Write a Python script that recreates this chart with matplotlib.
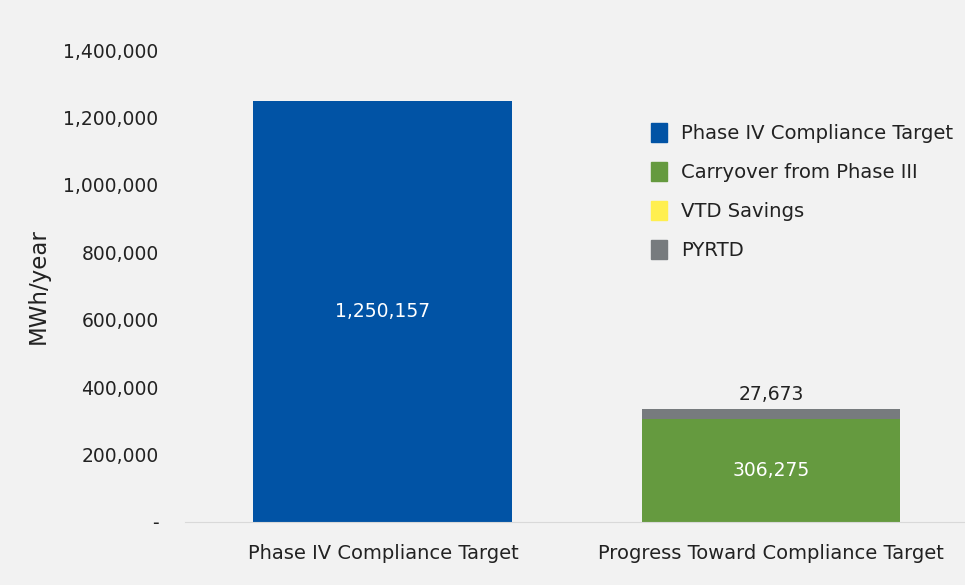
import matplotlib
matplotlib.use('Agg')
import matplotlib.pyplot as plt
from matplotlib.ticker import FuncFormatter
from matplotlib.patches import Patch

categories = ['Phase IV Compliance Target', 'Progress Toward Compliance Target']
series = ['Phase IV Compliance Target', 'Carryover from Phase III', 'VTD Savings', 'PYRTD']
target = [1250157, 0]
carryover = [0, 306275]
vtd = [0, 0]
pyrtd = [0, 27673]
colors = ['#0153a5', '#659a3f', '#ffef4f', '#777b7e']

plt.rcParams['font.family'] = ['DejaVu Sans']
txt = '#222222'

fig = plt.figure(figsize=(9.65, 5.85), dpi=100)
fig.patch.set_facecolor('#f2f2f2')
ax = fig.add_axes([185 / 965, 63 / 585, 780 / 965, 472 / 585])
ax.set_facecolor('#f2f2f2')

x = range(len(categories))
w = 0.667
bottom = [0, 0]
for vals, c in zip([target, carryover, vtd, pyrtd], colors):
    ax.bar(x, vals, w, bottom=bottom, color=c)
    bottom = [a + v for a, v in zip(bottom, vals)]

# data labels
ax.text(0, target[0] / 2, f'{target[0]:,}', color='white', ha='center', va='center', fontsize=13.5)
ax.text(1, carryover[1] / 2, f'{carryover[1]:,}', color='white', ha='center', va='center', fontsize=13.5)
ax.text(1, bottom[1] + 15000, f'{pyrtd[1]:,}', color=txt, ha='center', va='bottom', fontsize=13.5)

ax.set_xlim(-0.51, 1.5)
ax.set_ylim(0, 1400000)
ax.set_yticks(range(0, 1400001, 200000))
ax.yaxis.set_major_formatter(FuncFormatter(lambda v, p: '-' if v == 0 else f'{int(v):,}'))
ax.set_xticks(list(x))
ax.set_xticklabels(categories, fontsize=14, color=txt)
ax.tick_params(axis='y', length=0, pad=19, labelsize=13.5, labelcolor=txt)
ax.tick_params(axis='x', length=0, pad=16)
for s in ['top', 'right', 'left']:
    ax.spines[s].set_visible(False)
ax.spines['bottom'].set_color('#d9d9d9')
ax.set_ylabel('MWh/year', fontsize=16.5, color=txt, labelpad=10)

handles = [Patch(color=c) for c in colors]
ax.legend(handles, series, loc='upper left', bbox_to_anchor=(0.587, 0.861), frameon=False,
          fontsize=14.1, handlelength=0.82, handleheight=1.08, labelspacing=0.97, handletextpad=0.72,
          labelcolor=txt, borderaxespad=0)

fig.savefig('out.png', dpi=100, facecolor=fig.get_facecolor())
